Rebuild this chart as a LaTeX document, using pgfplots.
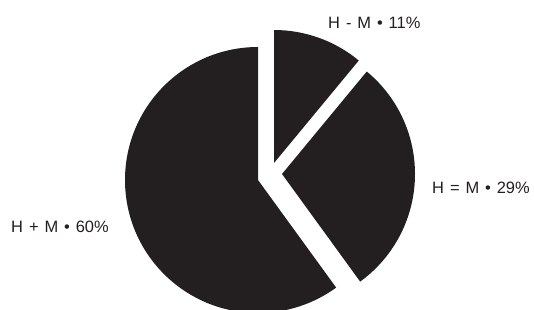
\documentclass[border=0pt]{standalone}
\usepackage{pgfplots}
\pgfplotsset{compat=1.18}
\usepackage{pgfplotstable}
\usepackage{fontspec}
\setmainfont{Liberation Sans}[WordSpace=1.3]
\definecolor{piefill}{RGB}{35,31,32}
\definecolor{labtext}{RGB}{35,31,32}

% share (%), wedge apex x, wedge apex y (exploded slices are shifted)
\pgfplotstableread{
value cx cy
60 258 130
29 282 136
11 274 147
}\piedata

\pgfplotstablegetelem{0}{value}\of\piedata\edef\vA{\pgfplotsretval}
\pgfplotstablegetelem{1}{value}\of\piedata\edef\vB{\pgfplotsretval}
\pgfplotstablegetelem{2}{value}\of\piedata\edef\vC{\pgfplotsretval}
\pgfplotstablegetelem{0}{cx}\of\piedata\edef\xA{\pgfplotsretval}
\pgfplotstablegetelem{1}{cx}\of\piedata\edef\xB{\pgfplotsretval}
\pgfplotstablegetelem{2}{cx}\of\piedata\edef\xC{\pgfplotsretval}
\pgfplotstablegetelem{0}{cy}\of\piedata\edef\yA{\pgfplotsretval}
\pgfplotstablegetelem{1}{cy}\of\piedata\edef\yB{\pgfplotsretval}
\pgfplotstablegetelem{2}{cy}\of\piedata\edef\yC{\pgfplotsretval}
\pgfmathsetmacro\sA{90}
\pgfmathsetmacro\eA{\sA+3.6*\vA}
\pgfmathsetmacro\eB{\eA+3.6*\vB}
\pgfmathsetmacro\eC{\eB+3.6*\vC}

\begin{document}
\begin{tikzpicture}
\begin{axis}[
  width=534bp, height=310bp, scale only axis,
  xmin=0, xmax=534, ymin=0, ymax=310,
  axis lines=none, ticks=none, clip mode=global,
]
\fill[piefill] (axis cs:\xA,\yA) -- +(\sA:133bp) arc[start angle=\sA, end angle=\eA, radius=133bp] -- cycle;
\fill[piefill] (axis cs:\xB,\yB) -- +(\eA:133bp) arc[start angle=\eA, end angle=\eB, radius=133bp] -- cycle;
\fill[piefill] (axis cs:\xC,\yC) -- +(\eB:133bp) arc[start angle=\eB, end angle=\eC, radius=133bp] -- cycle;

\node[anchor=base west, inner sep=0pt, text=labtext, font=\fontsize{16.5}{18}\selectfont] at (axis cs:11,78) {H + M • \vA\%};
\node[anchor=base west, inner sep=0pt, text=labtext, font=\fontsize{16.5}{18}\selectfont] at (axis cs:328,282) {H - M • \vC\%};
\node[anchor=base west, inner sep=0pt, text=labtext, font=\fontsize{16.5}{18}\selectfont] at (axis cs:432,117) {H = M • \vB\%};
\end{axis}
\pgfresetboundingbox
\path (current axis.south west) rectangle (current axis.north east);
\end{tikzpicture}
\end{document}
